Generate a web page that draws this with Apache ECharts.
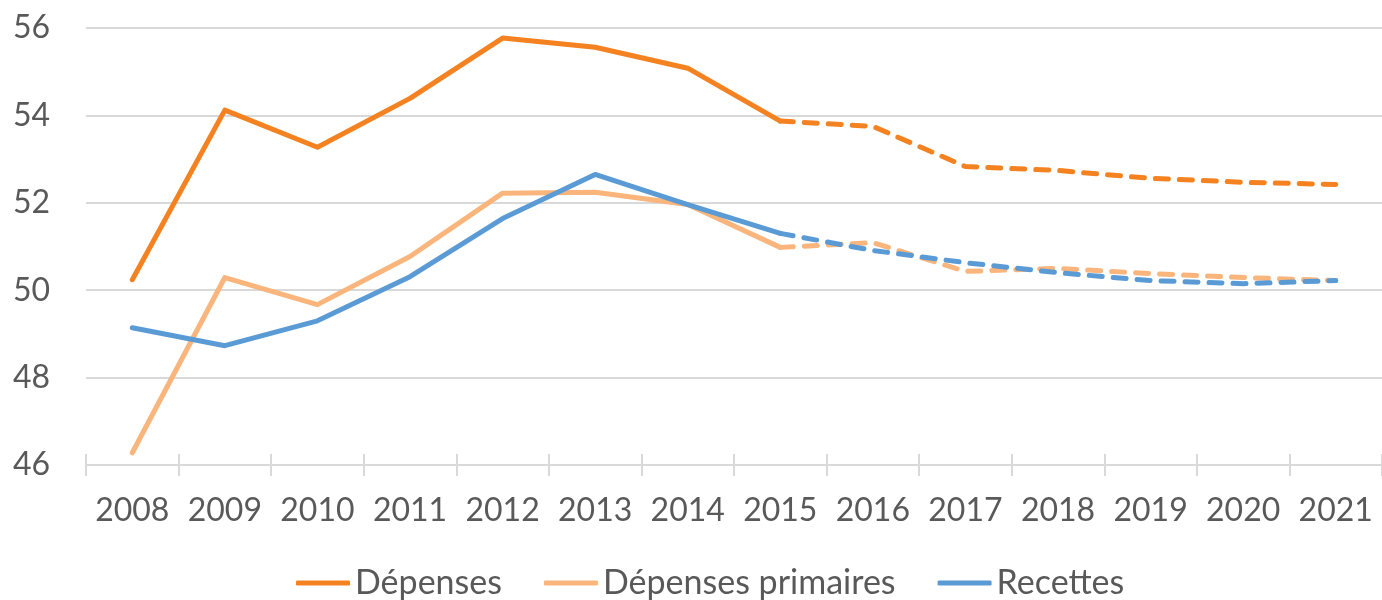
<!DOCTYPE html>
<html>
<head>
<meta charset="utf-8">
<script src="https://cdn.jsdelivr.net/npm/echarts@6/dist/echarts.min.js"></script>
<style>
  html, body { margin: 0; padding: 0; background: #fff; }
  #chart { width: 1382px; height: 600px; }
</style>
</head>
<body>
<div id="chart"></div>
<script>
// Data (% of GDP)
var years = ['2008', '2009', '2010', '2011', '2012', '2013', '2014', '2015', '2016', '2017', '2018', '2019', '2020', '2021'];
var depenses = [50.24, 54.12, 53.27, 54.39, 55.77, 55.56, 55.08, 53.87, 53.75, 52.83, 52.74, 52.56, 52.47, 52.42];
var depensesPrimaires = [46.28, 50.29, 49.67, 50.77, 52.22, 52.24, 51.96, 50.98, 51.09, 50.43, 50.5, 50.38, 50.29, 50.22];
var recettes = [49.14, 48.73, 49.3, 50.31, 51.64, 52.65, 51.96, 51.3, 50.91, 50.63, 50.4, 50.22, 50.15, 50.22];
var lastActual = '2015'; // solid up to here, dashed (forecast) after
var yTicks = [46, 48, 50, 52, 54, 56];

var chartDom = document.getElementById('chart');
var myChart = echarts.init(chartDom);
var option;

var font = 'Lato, "Liberation Sans", sans-serif';
var textColor = '#595959';
var gridColor = '#d9d9d9';
var cut = years.indexOf(lastActual);

// Split one series into an actual (solid) part and a forecast (dashed) part
function splitActual(values) {
    return values.map(function (v, i) { return i <= cut ? v : null; });
}
function splitForecast(values) {
    return values.map(function (v, i) { return i >= cut ? v : null; });
}

function makeSeries(name, values, color) {
    var base = {
        name: name,
        type: 'line',
        showSymbol: false,
        symbol: 'none',
        color: color,
        connectNulls: false,
        z: 3
    };
    return [
        Object.assign({}, base, {
            data: splitActual(values),
            lineStyle: { width: 5, color: color, cap: 'round', join: 'round' }
        }),
        Object.assign({}, base, {
            data: splitForecast(values),
            lineStyle: { width: 5, color: color, type: [13, 11], cap: 'round', join: 'round' }
        })
    ];
}

var seriesData = []
    .concat(makeSeries('Dépenses', depenses, '#F58220'))
    .concat(makeSeries('Dépenses primaires', depensesPrimaires, '#F9B57B'))
    .concat(makeSeries('Recettes', recettes, '#5B9BD5'));

option = {
    animation: false,
    grid: {
        left: 86,
        top: 28,
        width: 1302,
        height: 437,
        containLabel: false
    },
    legend: {
        data: ['Dépenses', 'Dépenses primaires', 'Recettes'],
        left: 291,
        top: 561,
        icon: 'roundRect',
        itemWidth: 54,
        itemHeight: 5,
        itemGap: 42,
        textStyle: {
            fontFamily: font,
            fontSize: 34,
            color: textColor,
            padding: [0, 0, 0, 0]
        }
    },
    xAxis: [
        {
            type: 'category',
            data: years,
            boundaryGap: true,
            axisLine: { show: true, lineStyle: { color: gridColor, width: 2 } },
            axisTick: { show: true, length: 11, lineStyle: { color: gridColor, width: 2 } },
            axisLabel: {
                fontFamily: font,
                fontSize: 32,
                color: textColor,
                margin: 30,
                interval: 0
            }
        },
        {
            type: 'category',
            data: years,
            position: 'bottom',
            boundaryGap: true,
            axisLine: { show: false },
            axisTick: { show: true, inside: true, length: 11, lineStyle: { color: gridColor, width: 2 } },
            axisLabel: { show: false },
            splitLine: { show: false }
        }
    ],
    yAxis: {
        type: 'value',
        min: yTicks[0],
        max: yTicks[yTicks.length - 1],
        interval: 2,
        axisLine: { show: false },
        axisTick: { show: false },
        splitLine: { show: true, lineStyle: { color: gridColor, width: 2 } },
        axisLabel: {
            fontFamily: font,
            fontSize: 32,
            color: textColor,
            margin: 36
        }
    },
    series: seriesData
};

myChart.setOption(option);
</script>
</body>
</html>
